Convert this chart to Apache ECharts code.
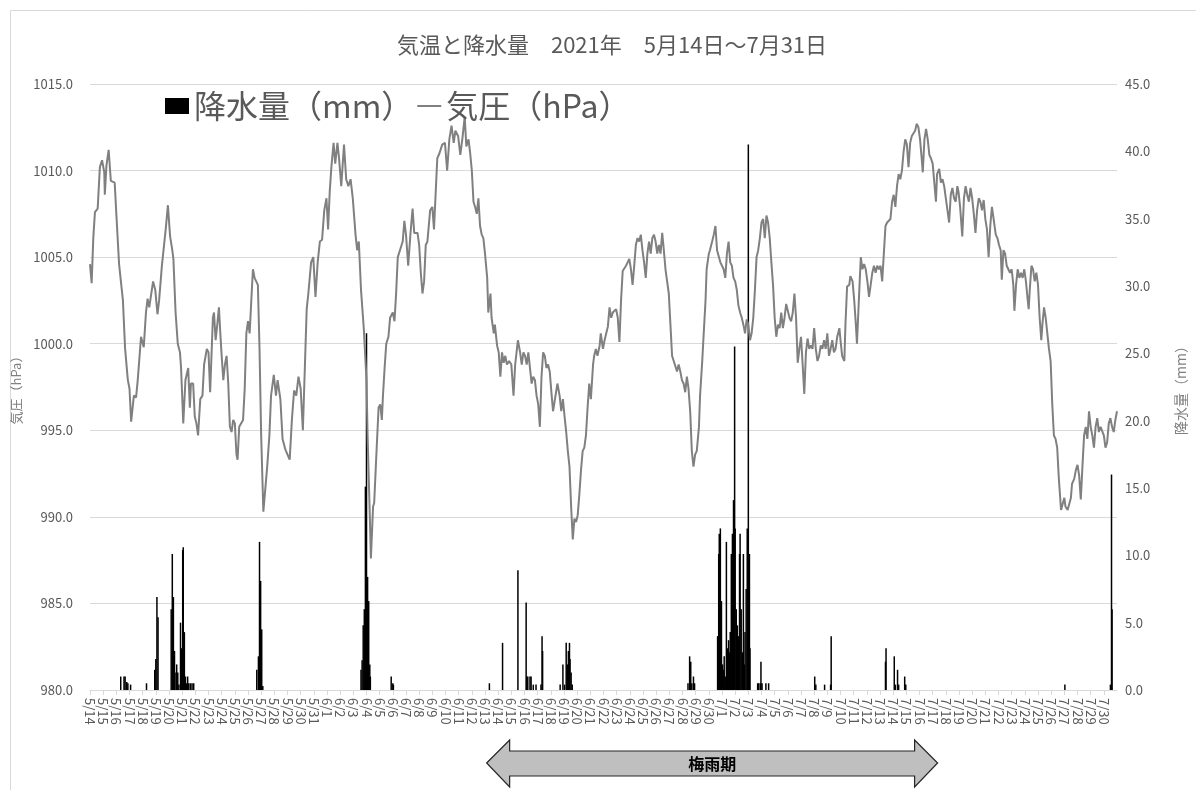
<!DOCTYPE html>
<html>
<head>
<meta charset="utf-8">
<title>気温と降水量</title>
<script src="https://cdn.jsdelivr.net/npm/echarts@6/dist/echarts.min.js"></script>
<style>
  html, body { margin: 0; padding: 0; background: #fff; }
  #chart { width: 1196px; height: 790px; }
</style>
</head>
<body>
<div id="chart"></div>
<script>
// 日付ラベル (x軸, 24時間ごと)
var dayLabels = [
  '5/14', '5/15', '5/16', '5/17', '5/18', '5/19', '5/20', '5/21', '5/22', '5/23', '5/24', '5/25',
  '5/26', '5/27', '5/28', '5/29', '5/30', '5/31',
  '6/1', '6/2', '6/3', '6/4', '6/5', '6/6', '6/7', '6/8', '6/9', '6/10', '6/11', '6/12', '6/13',
  '6/14', '6/15', '6/16', '6/17', '6/18', '6/19', '6/20', '6/21', '6/22', '6/23', '6/24', '6/25',
  '6/26', '6/27', '6/28', '6/29', '6/30',
  '7/1', '7/2', '7/3', '7/4', '7/5', '7/6', '7/7', '7/8', '7/9', '7/10', '7/11', '7/12', '7/13',
  '7/14', '7/15', '7/16', '7/17', '7/18', '7/19', '7/20', '7/21', '7/22', '7/23', '7/24', '7/25',
  '7/26', '7/27', '7/28', '7/29', '7/30'
]

// 気圧 (hPa) : 5/14 0時からの経過時間
var pressHour = [
  0, 3, 6, 9, 14, 18, 22, 26, 27, 30, 34, 38, 45, 48, 53, 56, 60, 64, 69, 72, 75, 80, 84, 87, 93, 98,
  102, 105, 108, 111, 115, 119, 123, 126, 131, 134, 138, 142, 146, 150, 152, 156, 160, 164, 166, 170,
  174, 179, 182, 184, 188, 191, 194, 197, 201, 205, 208, 213, 216, 219, 224, 226, 229, 232, 235, 237,
  240, 243, 246, 249, 252, 255, 258, 261, 264, 267, 269, 272, 275, 279, 282, 285, 288, 291, 294, 297,
  300, 303, 306, 309, 312, 316, 323, 327, 330, 335, 339, 342, 347, 351, 356, 360, 364, 368, 372, 376,
  380, 384, 388, 395, 398, 403, 407, 411, 415, 419, 423, 427, 431, 434, 437, 440, 444, 447, 451, 454,
  458, 463, 467, 471, 475, 479, 484, 487, 490, 494, 499, 504, 506, 510, 512, 516, 518, 522, 526, 529,
  532, 534, 537, 540, 544, 547, 552, 555, 558, 561, 565, 570, 573, 576, 580, 584, 588, 591, 597, 600,
  603, 606, 609, 612, 615, 620, 624, 627, 633, 637, 642, 647, 651, 655, 659, 663, 666, 671, 675, 679,
  683, 686, 690, 693, 696, 699, 702, 705, 708, 711, 714, 717, 720, 724, 726, 730, 732, 736, 738, 742,
  745, 748, 751, 754, 757, 760, 764, 768, 772, 775, 780, 784, 787, 790, 793, 796, 799, 802, 805, 808,
  811, 814, 817, 820, 823, 826, 829, 832, 835, 838, 841, 844, 847, 852, 856, 859, 862, 865, 868, 871,
  874, 877, 880, 883, 886, 889, 892, 895, 898, 901, 904, 907, 910, 913, 917, 919, 922, 925, 929, 931,
  935, 938, 941, 944, 947, 950, 953, 956, 959, 962, 965, 968, 971, 974, 977, 980, 983, 986, 989, 992,
  995, 998, 1001, 1004, 1007, 1010, 1013, 1016, 1019, 1022, 1025, 1028, 1031, 1034, 1037, 1040, 1043,
  1046, 1049, 1052, 1055, 1058, 1061, 1064, 1067, 1070, 1073, 1076, 1079, 1082, 1085, 1088, 1091, 1094,
  1097, 1100, 1103, 1106, 1110, 1112, 1116, 1118, 1122, 1124, 1128, 1130, 1134, 1137, 1140, 1143, 1146,
  1149, 1152, 1155, 1158, 1161, 1164, 1167, 1170, 1173, 1176, 1179, 1182, 1185, 1188, 1191, 1194, 1197,
  1200, 1203, 1206, 1209, 1212, 1215, 1218, 1221, 1224, 1227, 1230, 1233, 1236, 1239, 1242, 1245, 1248,
  1251, 1254, 1257, 1260, 1263, 1266, 1269, 1272, 1275, 1278, 1281, 1284, 1287, 1290, 1293, 1296, 1299,
  1302, 1305, 1308, 1311, 1314, 1317, 1320, 1323, 1326, 1329, 1332, 1335, 1338, 1341, 1344, 1347, 1350,
  1353, 1356, 1359, 1362, 1366, 1368, 1371, 1375, 1377, 1380, 1384, 1386, 1390, 1393, 1396, 1398, 1402,
  1405, 1408, 1411, 1414, 1417, 1420, 1423, 1426, 1429, 1432, 1435, 1438, 1441, 1444, 1447, 1450, 1453,
  1456, 1459, 1462, 1465, 1468, 1471, 1474, 1477, 1480, 1483, 1486, 1489, 1492, 1495, 1498, 1501, 1504,
  1507, 1510, 1513, 1516, 1518, 1521, 1524, 1527, 1530, 1533, 1536, 1539, 1542, 1544, 1548, 1551, 1554,
  1557, 1560, 1563, 1566, 1569, 1572, 1575, 1578, 1581, 1583, 1586, 1590, 1593, 1596, 1599, 1602, 1605,
  1608, 1611, 1614, 1617, 1620, 1623, 1626, 1629, 1632, 1635, 1638, 1641, 1644, 1648, 1651, 1654, 1657,
  1660, 1662, 1665, 1668, 1671, 1674, 1677, 1680, 1683, 1685, 1688, 1691, 1694, 1697, 1700, 1703, 1706,
  1709, 1711, 1713, 1716, 1719, 1722, 1725, 1728, 1731, 1734, 1736, 1739, 1742, 1745, 1748, 1751, 1754,
  1757, 1760, 1763, 1766, 1770, 1772, 1776, 1778, 1782, 1784, 1788, 1790, 1794, 1797, 1800, 1803, 1806,
  1809, 1812, 1815, 1818, 1821, 1824, 1827, 1830, 1833, 1836, 1839, 1842, 1845, 1848, 1851, 1854, 1857,
  1860, 1863, 1866, 1869, 1872
]
var pressHpa = [
  1004.6, 1003.5, 1006.1, 1007.6, 1007.8, 1010.2, 1010.6, 1009.9, 1008.6, 1010.3, 1011.2, 1009.4, 1009.3,
  1007.5, 1004.6, 1004.5, 1002.5, 999.7, 997.9, 997.4, 995.5, 997.0, 996.9, 997.9, 1000.4, 999.8,
  1001.8, 1002.6, 1002.1, 1002.2, 1003.6, 1003.1, 1001.7, 1002.5, 1004.5, 1004.6, 1006.6, 1008.0, 1006.2,
  1005.4, 1004.9, 1001.8, 1000.0, 999.5, 998.6, 995.4,
  997.9, 998.6, 996.3, 997.7, 997.7, 995.8, 995.4, 994.7, 996.8, 997.0, 998.8, 999.7, 999.5, 997.2,
  1001.5, 1001.8, 1000.2, 1001.1, 1002.1, 1000.9,
  999.3, 997.9, 998.8, 999.3, 997.7, 995.2, 994.9, 995.6, 995.4, 993.6, 993.3, 995.2, 995.2, 995.6,
  997.4, 1000.6, 1001.3, 1000.6, 1002.5, 1004.3,
  1003.8, 1003.6, 1003.4, 999.7, 994.7, 990.3, 992.9, 994.7, 997.0, 998.2, 997.0, 997.9, 996.8, 994.5,
  993.9, 993.6, 993.3, 995.6, 997.3, 997.0,
  998.1, 997.4, 995.0, 1002.0, 1002.9, 1004.7, 1005.0, 1002.7, 1004.7, 1005.9, 1006.0, 1007.7, 1008.4,
  1006.6, 1008.8, 1010.2, 1011.6, 1010.4, 1011.6, 1010.7,
  1009.1, 1011.5, 1009.5, 1009.1, 1009.5, 1008.4, 1006.3, 1005.4, 1005.9, 1003.1, 1000.9, 997.9, 994.7,
  990.1, 987.6, 990.6, 990.8, 993.6, 996.3, 996.5,
  995.6, 997.0, 998.6, 1000.0, 1000.4, 1001.5, 1001.8, 1001.3, 1002.9, 1005.0, 1005.4, 1005.9, 1007.1,
  1006.3, 1004.5, 1006.3, 1007.8, 1006.4, 1006.4, 1005.7,
  1004.1, 1002.9, 1003.6, 1005.7, 1005.9, 1007.7, 1007.9, 1006.6, 1010.7, 1011.0, 1011.5, 1011.6, 1010.0,
  1011.8, 1012.6, 1011.6, 1012.3, 1012.0, 1010.9, 1011.9,
  1013.1, 1011.4, 1011.8, 1011.0, 1010.0, 1008.2, 1007.9, 1007.5, 1008.4, 1006.8, 1006.3, 1006.1, 1005.2,
  1003.8, 1001.8, 1002.9, 1001.5, 1000.6, 1001.1, 999.9,
  999.5, 998.1, 999.5, 998.9, 999.3, 998.8, 999.0, 998.8, 997.0, 998.8, 1000.2, 999.5, 998.8, 999.5,
  999.3, 998.8, 999.5, 999.4, 997.7, 998.1,
  997.9, 997.0, 996.5, 995.2, 998.1, 999.5, 999.3, 998.6, 998.8, 998.4, 997.2, 996.1, 996.1, 997.7,
  997.0, 996.1, 996.8, 995.8, 994.9, 993.8,
  992.9, 990.6, 988.7, 989.9, 989.7, 990.1, 991.3, 992.7, 993.8, 994.0, 994.7, 996.3, 997.7, 996.8,
  998.8, 999.3, 999.7, 999.3, 999.9, 1000.6,
  999.7, 1000.2, 1000.6, 1001.0, 1002.1, 1001.5, 1001.8, 1001.9, 1002.0, 1001.5, 1000.1, 1002.5, 1004.2,
  1004.1, 1004.5, 1004.7, 1004.9, 1004.3, 1003.4, 1004.5,
  1005.7, 1006.1, 1005.9, 1006.3, 1005.4, 1004.7, 1003.8, 1005.2, 1005.9, 1005.2, 1006.1, 1006.3, 1005.9,
  1005.2, 1005.7, 1005.2, 1006.4,
  1005.4, 1004.3, 1003.6, 1002.9, 1001.1, 999.3, 999.0, 998.9, 998.4, 998.8, 998.4, 997.9, 997.7, 997.2,
  998.1, 997.4, 996.1,
  993.8, 992.9, 993.6, 993.8, 995.2, 997.0, 999.0, 1000.2, 1002.5, 1004.3, 1005.2, 1005.4, 1005.9, 1006.3,
  1006.8, 1005.4, 1005.4,
  1004.7, 1004.5, 1004.3, 1003.8, 1005.2, 1005.9, 1004.7, 1004.5, 1003.8, 1003.6, 1003.1, 1002.2, 1001.8,
  1001.5, 1001.1, 1000.6, 1001.4,
  1001.1, 1000.2, 1000.6, 1001.5, 1003.1, 1005.0, 1005.4, 1006.1, 1007.0, 1007.2, 1006.1, 1007.4, 1007.0,
  1006.1, 1004.7, 1003.4, 1001.5,
  1000.4, 1001.1, 1000.9, 1001.8, 1000.9, 1001.5, 1002.3, 1002.2, 1001.5, 1001.3, 1001.8, 1002.9, 1001.5,
  998.9, 999.7, 1000.4, 998.8,
  997.1, 999.5, 1000.3, 999.7, 999.9, 999.7, 1000.9, 999.7, 999.0, 999.3, 999.9, 999.7, 1000.2, 999.7,
  1000.6, 999.3, 999.7,
  1000.2, 999.5, 999.7, 1000.4, 1000.9, 1000.2, 999.3, 999.0, 1001.1, 1003.3, 1003.4, 1003.9, 1003.6,
  1002.5, 1001.1, 1000.0, 1002.9,
  1005.0, 1004.3, 1004.6, 1004.3, 1003.6, 1002.7, 1003.4, 1004.1, 1004.5, 1004.1, 1004.5, 1004.3, 1004.5,
  1003.6, 1005.2, 1006.8, 1007.0,
  1007.0, 1007.2, 1008.2, 1008.6, 1007.9, 1009.1, 1009.8, 1009.5, 1010.0, 1011.1, 1011.8, 1011.5, 1010.2,
  1011.6, 1012.0, 1011.9, 1012.3,
  1012.7, 1012.5, 1011.8, 1010.7, 1009.9, 1011.8, 1012.4, 1011.8, 1010.9, 1010.7, 1010.4, 1009.3, 1008.2,
  1009.8, 1010.1, 1009.3, 1009.5,
  1009.1, 1008.4, 1007.7, 1007.0, 1008.6, 1009.0, 1008.4, 1008.2, 1009.1, 1008.8, 1007.9, 1006.2, 1008.4,
  1009.1, 1008.6, 1008.2, 1009.0,
  1008.4, 1007.5, 1006.4, 1007.7, 1008.4, 1008.2, 1007.7, 1008.3, 1007.2, 1006.6, 1005.0, 1006.8, 1007.9,
  1007.0, 1006.3, 1006.1, 1005.7,
  1005.4, 1003.7, 1005.4, 1005.2, 1004.5, 1004.5, 1004.1, 1004.3, 1003.4, 1001.9, 1003.4, 1004.3, 1003.8,
  1004.1, 1003.8, 1004.3, 1003.6,
  1002.6, 1002.0, 1003.1, 1004.5, 1004.3, 1003.6, 1004.1, 1003.4, 1001.5, 1000.2, 1001.1, 1002.1, 1001.5,
  1000.6, 999.7, 999.0, 996.5,
  994.7, 994.5, 994.0, 992.2, 990.4, 990.3, 991.1, 990.6, 990.4, 990.3, 991.1, 991.9, 992.2, 992.7,
  993.0, 992.4, 991.0,
  992.9, 994.7, 995.2, 994.5, 996.1, 995.2, 994.7, 994.0, 995.2, 995.7, 994.9, 995.2, 995.3, 994.7,
  994.0, 994.3, 995.4,
  995.7, 995.2, 994.9, 995.6, 996.1
]

// 降水量 (mm) : 1時間ごと, 0 の時間は省略
var rainHour = [
  56, 62, 64, 67, 69, 74, 103, 118, 120, 122, 124, 148, 150, 152, 154, 155, 158, 160, 162,
  165, 167, 169, 170, 172, 174, 176, 178, 180, 183, 186, 189,
  304, 307, 309, 311, 313, 315,
  494, 496, 498, 500, 502, 504, 506, 508, 510, 511, 549, 552, 553,
  728, 752, 780, 795, 796, 798, 802, 804, 808, 813, 822, 824, 825,
  857, 862, 865, 868, 870, 872, 874, 875, 877, 879,
  1090, 1093, 1095, 1097, 1100, 1102,
  1144, 1146, 1147, 1149, 1151, 1153, 1155, 1156, 1158, 1160, 1162, 1164, 1166, 1167, 1169, 1171,
  1173, 1175, 1176, 1178, 1180, 1182, 1184, 1185, 1187, 1189, 1191, 1193, 1194, 1196, 1198, 1200,
  1202, 1203, 1217, 1219, 1222, 1223, 1225, 1232, 1237,
  1321, 1323, 1339, 1350, 1351, 1450, 1451, 1466, 1468, 1472, 1474, 1485, 1487,
  1777, 1860, 1862, 1863
]
var rainMm = [
  1.0, 1.0, 1.0, 0.6, 0.5, 0.4, 0.5, 1.5, 2.3, 6.9, 5.4, 6.0, 10.1, 6.9, 2.9, 1.3, 1.9, 1.3, 0.4,
  5.0, 3.1, 10.4, 10.6, 4.3, 1.0, 0.5, 1.0, 0.5, 0.5, 0.5, 0.5,
  1.5, 2.5, 11.0, 8.1, 4.5, 0.3,
  1.5, 2.2, 4.8, 6.0, 15.1, 26.5, 8.4, 6.6, 1.9, 1.0, 1.0, 0.5, 0.4,
  0.5, 3.5, 8.9, 6.5, 1.0, 1.0, 1.0, 1.0, 0.4, 0.4, 0.4, 4.0, 2.9,
  0.4, 1.9, 0.4, 3.5, 1.9, 2.9, 3.5, 2.3, 1.3, 0.4,
  0.5, 2.5, 2.1, 0.5, 1.0, 0.5,
  4.0, 10.1, 11.6, 12.0, 6.6, 1.9, 1.5, 2.5, 1.0, 11.0, 3.1, 3.7, 2.8, 4.3, 10.1, 11.6,
  14.1, 25.5, 12.0, 6.0, 4.8, 4.0, 10.1, 11.6, 6.0, 2.8, 10.1, 1.9, 4.3, 7.5, 12.0, 40.5,
  10.1, 3.1, 0.5, 0.5, 0.5, 2.1, 0.5, 0.5, 0.5,
  1.0, 0.4, 0.4, 0.4, 4.0, 2.1, 3.1, 2.5, 0.4, 1.5, 0.4, 1.0, 0.4,
  0.4, 0.4, 16.0, 6.0
]

// 梅雨期の矢印 (時間)
var rainySeason = [723, 1545]

var FONT = "'Noto Sans CJK JP', 'Noto Sans', sans-serif"
var GRAY_TEXT = '#595959'

function pairs (xs, ys) {
  let out = []
  for (let i = 0; i < xs.length; i++) {
    out.push([xs[i], ys[i]])
  }
  return out
}

function drawChart (id) {
  let ele = document.getElementById(id)
  let myChart = echarts.init(ele)
  let option = {
    animation: false,
    backgroundColor: '#fff',
    textStyle: { fontFamily: FONT },
    title: {
      text: '気温と降水量　2021年　5月14日～7月31日',
      left: 607,
      top: 29,
      textAlign: 'center',
      textStyle: { fontSize: 22, fontWeight: 'normal', color: GRAY_TEXT, fontFamily: FONT }
    },
    legend: {
      left: 160,
      top: 85,
      itemWidth: 24,
      itemHeight: 16,
      itemGap: 4,
      textStyle: { fontSize: 32, color: GRAY_TEXT, fontFamily: FONT },
      data: [
        { name: '降水量（mm）', icon: 'rect' },
        { name: '気圧（hPa）', icon: 'path://M0,0 L24,0 L24,2 L0,2 Z' }
      ]
    },
    grid: { left: 90, right: 71, top: 84, bottom: 100 },
    xAxis: {
      type: 'value',
      min: 0,
      max: 1872,
      interval: 24,
      axisLine: { show: true, lineStyle: { color: '#d9d9d9', width: 1 } },
      axisTick: { show: true, length: 5, lineStyle: { color: '#d9d9d9' } },
      axisLabel: {
        rotate: -90,
        margin: 8,
        fontSize: 13,
        color: GRAY_TEXT,
        fontFamily: FONT,
        showMinLabel: true,
        showMaxLabel: false,
        formatter: function (v) {
          return dayLabels[Math.round(v / 24)] || ''
        }
      },
      splitLine: { show: false }
    },
    yAxis: [
      {
        type: 'value',
        min: 980,
        max: 1015,
        interval: 5,
        name: '気圧（hPa）',
        nameLocation: 'middle',
        nameRotate: 90,
        nameGap: 63,
        nameTextStyle: { fontSize: 13, color: '#7f7f7f', fontFamily: FONT },
        axisLine: { show: false },
        axisTick: { show: false },
        axisLabel: {
          margin: 17, fontSize: 13, color: GRAY_TEXT, fontFamily: FONT,
          formatter: function (v) { return v.toFixed(1) }
        },
        splitLine: { show: true, lineStyle: { color: '#d9d9d9', width: 1 } }
      },
      {
        type: 'value',
        position: 'right',
        min: 0,
        max: 45,
        interval: 5,
        name: '降水量（mm）',
        nameLocation: 'middle',
        nameRotate: 90,
        nameGap: 57,
        nameTextStyle: { fontSize: 14, color: '#7f7f7f', fontFamily: FONT },
        axisLine: { show: false },
        axisTick: { show: false },
        axisLabel: {
          margin: 8, fontSize: 13, color: GRAY_TEXT, fontFamily: FONT,
          formatter: function (v) { return v.toFixed(1) }
        },
        splitLine: { show: false }
      }
    ],
    series: [
      {
        name: '降水量（mm）',
        type: 'bar',
        yAxisIndex: 1,
        barWidth: 1.5,
        itemStyle: { color: '#000' },
        data: pairs(rainHour, rainMm),
        z: 2
      },
      {
        name: '気圧（hPa）',
        type: 'line',
        yAxisIndex: 0,
        symbol: 'none',
        lineStyle: { color: '#808080', width: 2 },
        itemStyle: { color: '#808080' },
        data: pairs(pressHour, pressHpa),
        z: 3
      }
    ]
  }
  myChart.setOption(option)

  // 梅雨期の両矢印
  let x1 = myChart.convertToPixel({ xAxisIndex: 0 }, rainySeason[0])
  let x2 = myChart.convertToPixel({ xAxisIndex: 0 }, rainySeason[1])
  let head = 23
  let arrow = [
    [x1, 763], [x1 + head, 740], [x1 + head, 751], [x2 - head, 751], [x2 - head, 740],
    [x2, 763], [x2 - head, 787], [x2 - head, 776], [x1 + head, 776], [x1 + head, 787]
  ]
  myChart.setOption({
    graphic: [
      {
        type: 'rect',
        shape: { x: 10.5, y: 10.5, width: 1300, height: 900 },
        style: { fill: 'none', stroke: '#d9d9d9', lineWidth: 1 },
        silent: true
      },
      {
        type: 'polygon',
        shape: { points: arrow },
        style: { fill: '#bfbfbf', stroke: '#262626', lineWidth: 1.2 }
      },
      {
        type: 'text',
        x: (x1 + x2) / 2,
        y: 764,
        style: {
          text: '梅雨期', fill: '#000', font: 'bold 16px ' + FONT,
          textAlign: 'center', textVerticalAlign: 'middle'
        }
      }
    ]
  })
}

drawChart('chart')
</script>
</body>
</html>
